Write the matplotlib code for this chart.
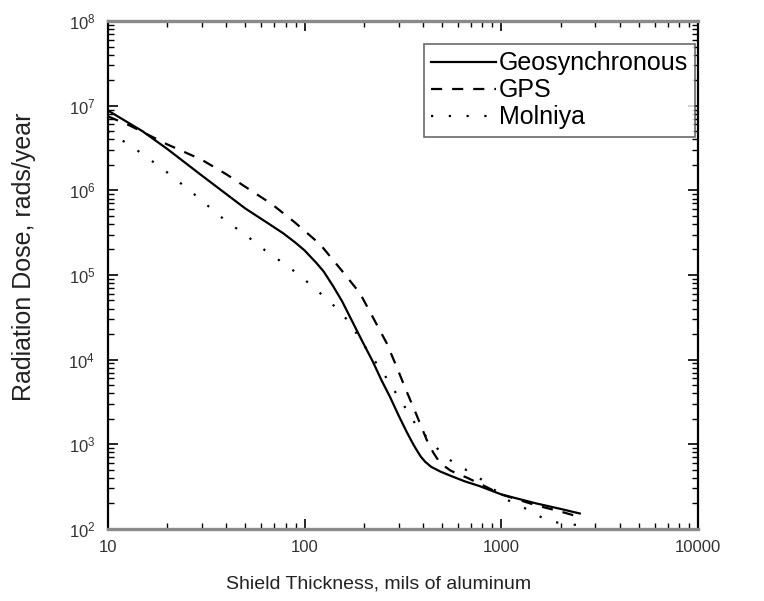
import numpy as np
import matplotlib
matplotlib.use('Agg')
from matplotlib import pyplot as plt
from matplotlib.ticker import LogLocator, FixedLocator, FixedFormatter, NullFormatter

plt.rcParams['font.family'] = ['Liberation Sans', 'DejaVu Sans']
plt.rcParams['mathtext.default'] = 'regular'

# shield thickness (mils of aluminum) and dose (rads/year)
geo_x = [10, 15, 20, 30, 50, 65, 78, 90, 100, 115, 125, 140, 155, 170, 195, 222,
         245, 272, 300, 330, 345, 360, 375, 390, 410, 440, 490, 550, 650, 775,
         1000, 1500, 2000, 2500]
geo_y = [8.8e6, 5.0e6, 3.1e6, 1.5e6, 6.1e5, 4.1e5, 3.1e5, 2.4e5, 1.95e5, 1.38e5,
         1.1e5, 7.3e4, 4.9e4, 3.2e4, 1.7e4, 9.5e3, 5.8e3, 3.6e3, 2.2e3, 1.4e3,
         1.15e3, 9.6e2, 8.2e2, 7.1e2, 6.2e2, 5.4e2, 4.75e2, 4.25e2, 3.65e2,
         3.2e2, 2.55e2, 2.0e2, 1.72e2, 1.52e2]

gps_x = [10, 13, 20, 30, 40, 50, 68, 89, 120, 152, 191, 225, 261, 293, 330, 371,
         417, 450, 488, 550, 600, 665, 800, 1000, 1500, 2000, 2500]
gps_y = [7.5e6, 5.8e6, 3.5e6, 2.3e6, 1.55e6, 1.1e6, 6.9e5, 4.2e5, 2.3e5, 1.18e5,
         6.1e4, 3.0e4, 1.57e4, 8.3e3, 4.2e3, 2.2e3, 1.13e3, 8.0e2, 6.0e2, 4.9e2,
         4.45e2, 4.05e2, 3.3e2, 2.55e2, 1.9e2, 1.6e2, 1.38e2]

mol_x = [10, 13.5, 19, 26.9, 37.6, 54, 63, 75, 89, 105, 124, 148, 170, 190, 215,
         242, 272, 302, 336, 373, 420, 460, 507, 603, 720, 1070, 1245, 1450, 1700,
         2000, 2500]
mol_y = [5.0e6, 3.2e6, 1.8e6, 9.4e5, 4.85e5, 2.6e5, 1.95e5, 1.47e5, 1.1e5, 8.0e4,
         5.7e4, 3.9e4, 2.7e4, 1.8e4, 1.15e4, 7.9e3, 5.2e3, 3.5e3, 2.4e3, 1.6e3,
         1.2e3, 9.5e2, 7.5e2, 5.5e2, 4.55e2, 2.2e2, 1.87e2, 1.57e2, 1.25e2,
         1.17e2, 1.1e2]

x_ticks = [10, 100, 1000, 10000]
x_labels = ['10', '100', '1000', '10000']

fig = plt.figure(figsize=(7.64, 6.01), dpi=100)
ax = fig.add_axes([0.141, 0.120, 0.773, 0.845])

ax.plot(geo_x, geo_y, color='black', lw=1.6, label='Geosynchronous')
ax.plot(gps_x, gps_y, color='black', lw=1.6, linestyle=(0, (5, 4.5)), label='GPS')
ax.plot(mol_x, mol_y, color='black', lw=1.6, linestyle=(0, (1, 7)), label='Molniya')

ax.set_xscale('log')
ax.set_yscale('log')
ax.set_xlim(10, 10000)
ax.set_ylim(1e2, 1e8)

ax.xaxis.set_major_locator(FixedLocator(x_ticks))
ax.xaxis.set_major_formatter(FixedFormatter(x_labels))
ax.xaxis.set_minor_locator(LogLocator(base=10, subs=np.arange(2, 10), numticks=20))
ax.xaxis.set_minor_formatter(NullFormatter())
ax.yaxis.set_major_locator(LogLocator(base=10, numticks=10))
ax.yaxis.set_minor_locator(LogLocator(base=10, subs=np.arange(2, 10), numticks=20))
ax.yaxis.set_minor_formatter(NullFormatter())
ax.xaxis.get_offset_text().set_visible(False)
ax.yaxis.get_offset_text().set_visible(False)

ax.tick_params(which='both', direction='in', top=True, right=True, colors='black')
ax.tick_params(which='major', length=7, width=1.2, labelsize=12, labelcolor='#333333')
ax.tick_params(which='minor', length=4, width=1.0)
ax.tick_params(axis='y', pad=9)
ax.tick_params(axis='x', pad=8)

for side in ['left', 'right']:
    ax.spines[side].set_linewidth(1.6)
    ax.spines[side].set_color('black')
for side in ['top', 'bottom']:
    ax.spines[side].set_linewidth(2.4)
    ax.spines[side].set_color('#8a8a8a')

ax.set_xlabel('Shield Thickness, mils of aluminum', fontsize=14, color='#222222')
ax.set_ylabel('Radiation Dose, rads/year', fontsize=18, color='#222222')
ax.xaxis.set_label_coords(0.458, -0.092)
ax.yaxis.set_label_coords(-0.122, 0.535)

leg = ax.legend(loc='upper right', bbox_to_anchor=(0.995, 0.955), fontsize=18,
                frameon=True, fancybox=False, handlelength=2.6, handletextpad=0.1,
                borderpad=0.3, labelspacing=0.12, borderaxespad=0)
leg.get_frame().set_edgecolor('#444444')
leg.get_frame().set_linewidth(1.2)

fig.savefig('out.png', dpi=100)
